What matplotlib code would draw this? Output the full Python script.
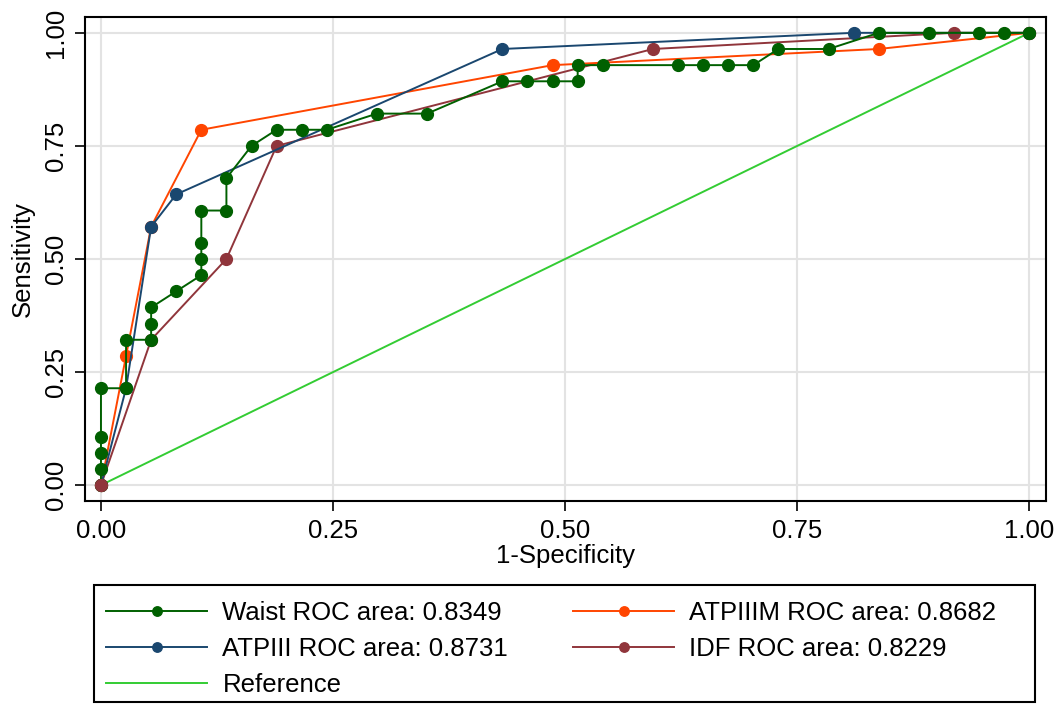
import matplotlib
matplotlib.use("Agg")
import matplotlib.pyplot as plt
from matplotlib.patches import Rectangle
import numpy as np

plt.rcParams['font.family'] = ['Liberation Sans', 'DejaVu Sans']

# Sample sizes implied by the step sizes: 37 negatives, 28 positives
n_neg = 37
n_pos = 28

# Points as (false positives count, true positives count)
waist_fp = [0, 0, 0, 0, 0, 1, 1, 2, 2, 2, 3, 4, 4, 4, 4, 5, 5, 6, 7, 8, 9, 11, 13,
            16, 17, 18, 19, 19, 20, 23, 24, 25, 26, 27, 29, 31, 33, 35, 36, 37]
waist_tp = [0, 1, 2, 3, 6, 6, 9, 9, 10, 11, 12, 13, 14, 15, 17, 17, 19, 21, 22, 22, 22, 23, 23,
            25, 25, 25, 25, 26, 26, 26, 26, 26, 26, 27, 27, 28, 28, 28, 28, 28]

atp_fp = [0, 1, 2, 3, 16, 30, 37]
atp_tp = [0, 6, 16, 18, 27, 28, 28]

atpm_fp = [0, 1, 2, 4, 18, 31, 37]
atpm_tp = [0, 8, 16, 22, 26, 27, 28]

idf_fp = [0, 2, 5, 7, 22, 34, 37]
idf_tp = [0, 9, 14, 21, 27, 28, 28]

labels = ["Waist ROC area: 0.8349", "ATPIII ROC area: 0.8731", "Reference",
          "ATPIIIM ROC area: 0.8682", "IDF ROC area: 0.8229"]
ticks = [0.0, 0.25, 0.5, 0.75, 1.0]
tick_labels = ["0.00", "0.25", "0.50", "0.75", "1.00"]

c_waist = "#006000"
c_atp = "#1a476f"
c_atpm = "#ff4500"
c_idf = "#90353b"
c_ref = "#33cc33"

fig = plt.figure(figsize=(10.56, 7.04), dpi=100)
ax = fig.add_axes([85/1056, 1-501/704, (1046-85)/1056, (501-17)/704])

fs = 18.5
ms = 8.5
lw = 1.4

def xy(fp, tp):
    return np.array(fp) / n_neg, np.array(tp) / n_pos

ax.plot([0, 1], [0, 1], color=c_ref, lw=lw, zorder=2)
h_idf, = ax.plot(*xy(idf_fp, idf_tp), color=c_idf, lw=lw, marker='o', ms=ms, zorder=3)
h_atpm, = ax.plot(*xy(atpm_fp, atpm_tp), color=c_atpm, lw=lw, marker='o', ms=ms, zorder=3)
h_atp, = ax.plot(*xy(atp_fp, atp_tp), color=c_atp, lw=lw, marker='o', ms=ms, zorder=3)
h_waist, = ax.plot(*xy(waist_fp, waist_tp), color=c_waist, lw=lw, marker='o', ms=ms, zorder=4)
ax.plot(*xy(idf_fp[:1], idf_tp[:1]), color=c_idf, lw=0, marker='o', ms=ms, zorder=5)
h_ref, = ax.plot([], [], color=c_ref, lw=lw)

ax.set_xlim(-0.0172, 1.018)
ax.set_ylim(-0.035, 1.035)
ax.set_xticks(ticks)
ax.set_xticklabels(tick_labels)
ax.set_yticks(ticks)
ax.set_yticklabels(tick_labels, rotation=90, va='center')
ax.grid(True, color='#e3e3e3', lw=1.5, zorder=0)
ax.set_axisbelow(True)
ax.tick_params(axis='both', length=7, width=1.2, labelsize=fs, color='black')
ax.tick_params(axis='x', pad=6)
ax.tick_params(axis='y', pad=5)
for s in ax.spines.values():
    s.set_linewidth(1.5)
    s.set_color('black')
ax.set_xlabel("1-Specificity", fontsize=fs, labelpad=1)
ax.set_ylabel("Sensitivity", fontsize=fs, labelpad=7)

# Legend frame
fig.patches.append(Rectangle((94/1056, 1-702/704), (1035-94)/1056, (702-585)/704,
                             transform=fig.transFigure, fill=False, edgecolor='black',
                             lw=1.5))
handles = [h_waist, h_atp, h_ref, h_atpm, h_idf]
leg = fig.legend(handles, labels, loc='upper left', bbox_to_anchor=(106/1056, 1-601/704),
                 ncol=2, frameon=False, fontsize=fs, borderpad=0, borderaxespad=0,
                 handlelength=3.95, handletextpad=0.58, columnspacing=2.52,
                 labelspacing=0.46, markerscale=0.8)

fig.savefig("out.png", dpi=100)
